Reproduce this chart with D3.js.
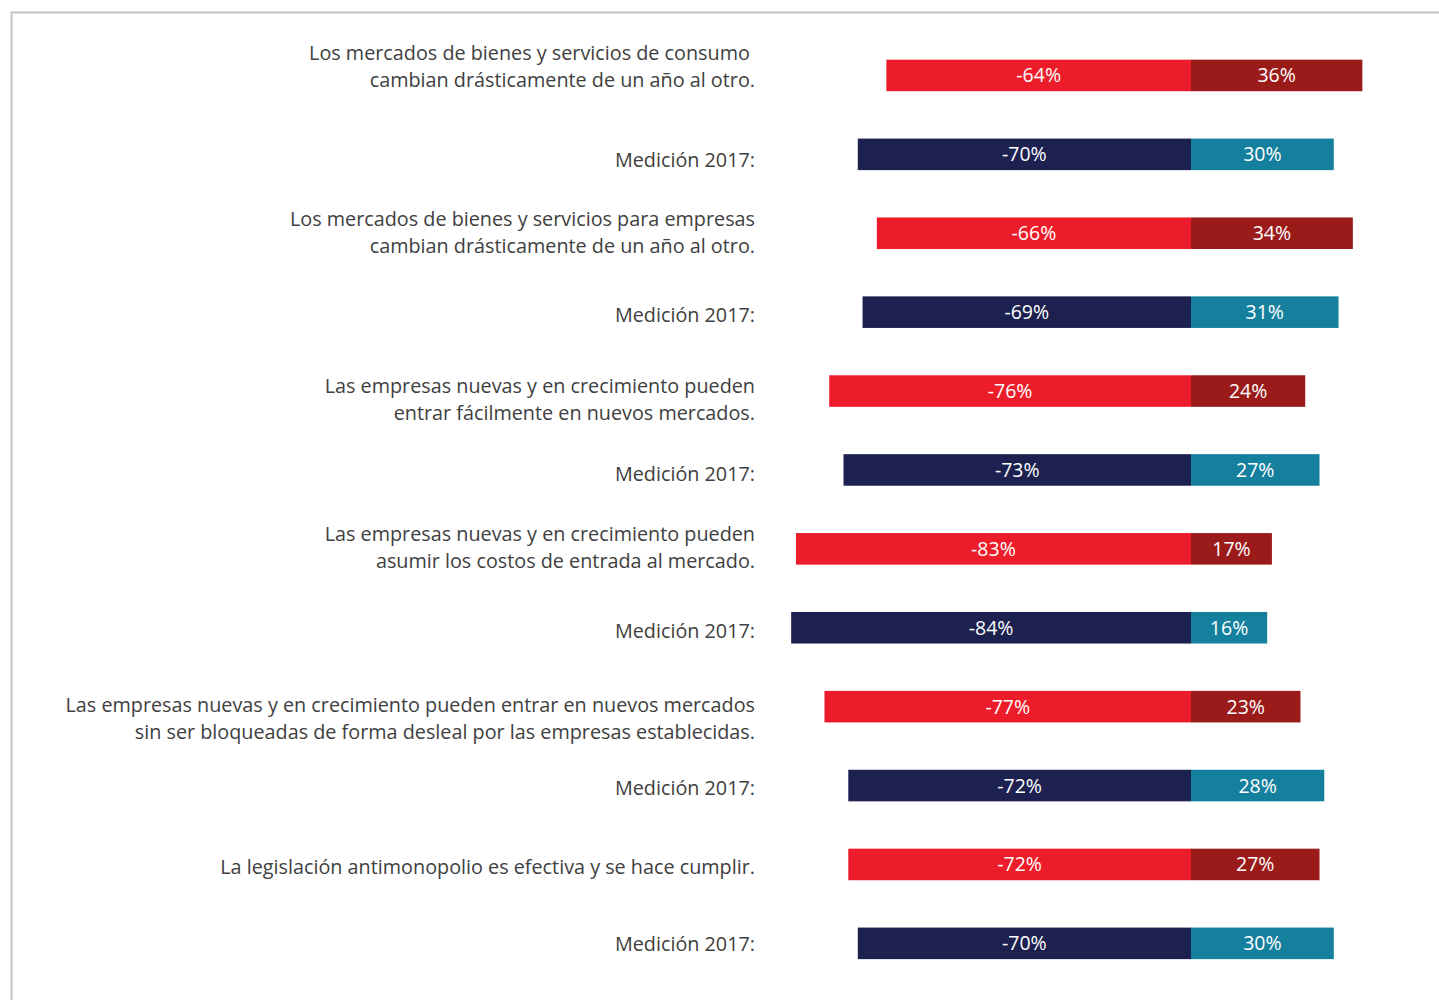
<!DOCTYPE html>
<html>
<head>
<meta charset="utf-8">
<script src="https://cdn.jsdelivr.net/npm/d3@7"></script>
<style>
  html, body { margin: 0; padding: 0; background: #fff; }
  svg { display: block; }
</style>
</head>
<body>
<svg id="chart" width="1439" height="1000"></svg>
<script>
// Statements (current year rows) and their 2017 comparison rows, top to bottom
const rowLabels = [
  ["Los mercados de bienes y servicios de consumo ", "cambian drásticamente de un año al otro."],
  ["Medición 2017:"],
  ["Los mercados de bienes y servicios para empresas", "cambian drásticamente de un año al otro."],
  ["Medición 2017:"],
  ["Las empresas nuevas y en crecimiento pueden", "entrar fácilmente en nuevos mercados."],
  ["Medición 2017:"],
  ["Las empresas nuevas y en crecimiento pueden", "asumir los costos de entrada al mercado."],
  ["Medición 2017:"],
  ["Las empresas nuevas y en crecimiento pueden entrar en nuevos mercados", "sin ser bloqueadas de forma desleal por las empresas establecidas."],
  ["Medición 2017:"],
  ["La legislación antimonopolio es efectiva y se hace cumplir."],
  ["Medición 2017:"]
];
// Share disagreeing (negative) and agreeing (positive), in percent
const negativeValues = [-64, -70, -66, -69, -76, -73, -83, -84, -77, -72, -72, -70];
const positiveValues = [36, 30, 34, 31, 24, 27, 17, 16, 23, 28, 27, 30];
// Whether a row is the 2017 comparison row
const isPrevious = [false, true, false, true, false, true, false, true, false, true, false, true];

// Vertical nudges of the row captions relative to their bar centre
const labelNudge = [-9, 6, -1, 3, 8, 4, -1, 3, 12, 2, 2, 1];

const colors = {
  neg: "#ED1C2A", pos: "#9B1B1B",
  negPrev: "#1C2150", posPrev: "#15809E"
};

const svg = d3.select("#chart");

// Frame
svg.append("path")
  .attr("d", "M11.5,1000 V12.5 H1439")
  .attr("fill", "none")
  .attr("stroke", "#c4c4c4")
  .attr("stroke-width", 2);

const x = d3.scaleLinear().domain([-100, 100]).range([715, 1667]);
const y = d3.scaleBand()
  .domain(d3.range(rowLabels.length))
  .range([36, 36 + 78.9 * 12])
  .paddingInner(0.6)
  .paddingOuter(0.3);

const rows = svg.selectAll("g.row")
  .data(d3.range(rowLabels.length))
  .join("g")
  .attr("class", "row");

// Negative segment
rows.append("rect")
  .attr("x", i => x(negativeValues[i]))
  .attr("y", i => y(i))
  .attr("width", i => x(0) - x(negativeValues[i]))
  .attr("height", y.bandwidth())
  .attr("fill", i => isPrevious[i] ? colors.negPrev : colors.neg);

// Positive segment
rows.append("rect")
  .attr("x", x(0))
  .attr("y", i => y(i))
  .attr("width", i => x(positiveValues[i]) - x(0))
  .attr("height", y.bandwidth())
  .attr("fill", i => isPrevious[i] ? colors.posPrev : colors.pos);

const valueFont = "'Open Sans', sans-serif";

rows.append("text")
  .attr("x", i => (x(negativeValues[i]) + x(0)) / 2)
  .attr("y", i => y(i) + y.bandwidth() / 2)
  .attr("dy", "0.36em")
  .attr("text-anchor", "middle")
  .attr("fill", "#fff")
  .style("font-family", valueFont)
  .style("font-size", "19.5px")
  .text(i => negativeValues[i] + "%");

rows.append("text")
  .attr("x", i => (x(positiveValues[i]) + x(0)) / 2)
  .attr("y", i => y(i) + y.bandwidth() / 2)
  .attr("dy", "0.36em")
  .attr("text-anchor", "middle")
  .attr("fill", "#fff")
  .style("font-family", valueFont)
  .style("font-size", "19.5px")
  .text(i => positiveValues[i] + "%");

// Row captions, right-aligned left of the bars
const lineGap = 27;
rows.append("text")
  .attr("text-anchor", "end")
  .attr("fill", "#404040")
  .style("font-family", valueFont)
  .style("font-size", "19.8px")
  .each(function(i) {
    const lines = rowLabels[i];
    const cy = y(i) + y.bandwidth() / 2 + labelNudge[i];
    const top = cy - (lines.length - 1) * lineGap / 2;
    d3.select(this).selectAll("tspan")
      .data(lines)
      .join("tspan")
      .attr("x", 755)
      .attr("y", (d, k) => top + k * lineGap)
      .attr("dy", "0.36em")
      .text(d => d);
  });
</script>
</body>
</html>
